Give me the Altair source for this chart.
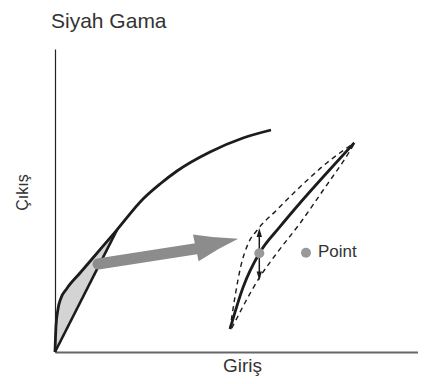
import altair as alt
import pandas as pd

# ---- values (x = Giriş, y = Çıkış, plot units) ----
# main gamma curve
curve_x = [0, 1, 3, 6, 11.7, 25, 40, 62, 88, 105, 122, 155, 188, 216]
curve_y = [0, 26, 43, 54, 63.3, 79, 96.5, 122.2, 153, 168, 181, 200, 214, 222]
# straight (black-stretch) segment
line_x = [0, 62]
line_y = [0, 122.2]
# shaded band between curve and straight segment
band_y = [0, 26, 43, 54, 63.3, 79, 96.5, 122.2]
band_curve_x = [0, 1, 3, 6, 11.7, 25, 40, 62]
band_line_x = [0, 13.2, 21.8, 27.4, 32.1, 40.1, 49.0, 62]

# enlarged detail: solid curve and dashed envelope
detail_x = [175, 188.3, 204.3, 225, 245, 271.7, 299.3]
detail_y = [23, 65.3, 98.7, 125.3, 149, 179, 209.3]
upper_x = [175, 180, 185.7, 193.3, 202.3, 221.7, 245, 271.7, 291.7, 299]
upper_y = [23, 55.3, 85.3, 108.7, 122, 142, 165, 189, 204, 209]
lower_x = [176.7, 205, 221.7, 245, 268.3, 295, 299]
lower_y = [23.7, 75.3, 98.7, 128.7, 162, 201.3, 208]

# big gray arrow
arrow_x, arrow_y, arrow_x2, arrow_y2 = [43], [88], [146], [104]
head_x, head_y = [162], [108.7]

# small double arrow
darrow_x = [204.3]
darrow_lo, darrow_hi = [76], [120]
up_head_y, down_head_y = [119.5], [76]

# points and label
point_x = [204.3, 251]
point_y = [98.7, 99.3]
label_x, label_y, label_text = [263], [95.3], ["Point"]

FONT = "Liberation Sans"
INK = "#1c1c1c"
GRAY = "#8c8c8c"

xs = alt.Scale(domain=[0, 363], nice=False, zero=False)
ys = alt.Scale(domain=[0, 303], nice=False, zero=False)
xaxis = alt.Axis(title="Giriş", ticks=False, labels=False, grid=False,
                 domainColor="#666666", domainWidth=1.8,
                 titleX=187, titleY=19, titleBaseline="alphabetic", titleAlign="center",
                 titleFontSize=19, titleFont=FONT, titleFontWeight="normal", titleColor="#333333")
yaxis = alt.Axis(title="Çıkış", ticks=False, labels=False, grid=False,
                 domainColor="#222222", domainWidth=1.2,
                 titleX=-28, titleY=143, titleAngle=270, titleBaseline="alphabetic", titleAlign="center",
                 titleFontSize=16, titleFont=FONT, titleFontWeight="normal", titleColor="#333333")


def X(f):
    return alt.X(f, type="quantitative", scale=xs, axis=xaxis, title="Giriş")


def Y(f):
    return alt.Y(f, type="quantitative", scale=ys, axis=yaxis, title="Çıkış")


band = alt.Chart(pd.DataFrame({"y": band_y, "xa": band_curve_x, "xb": band_line_x})).mark_area(
    orient="horizontal", interpolate="monotone", color="#d4d4d4"
).encode(y=Y("y"), x=X("xa"), x2="xb")

curve = alt.Chart(pd.DataFrame({"x": curve_x, "y": curve_y})).mark_line(
    interpolate="monotone", color=INK, strokeWidth=2.8
).encode(x=X("x"), y=Y("y"))

straight = alt.Chart(pd.DataFrame({"x": line_x, "y": line_y})).mark_line(
    color=INK, strokeWidth=2.6
).encode(x=X("x"), y=Y("y"))

shaft = alt.Chart(pd.DataFrame({"x": arrow_x, "y": arrow_y, "x2": arrow_x2, "y2": arrow_y2})).mark_rule(
    color=GRAY, strokeWidth=11, strokeCap="round"
).encode(x=X("x"), y=Y("y"), x2="x2", y2="y2")

head = alt.Chart(pd.DataFrame({"x": head_x, "y": head_y})).mark_point(
    shape="M-1,-0.63 Q0,-0.24 1,0 Q0,0.24 -1,0.63 Z", size=1880, angle=348,
    filled=True, color=GRAY, opacity=1
).encode(x=X("x"), y=Y("y"))

upper = alt.Chart(pd.DataFrame({"x": upper_x, "y": upper_y})).mark_line(
    interpolate="monotone", color=INK, strokeWidth=1.4, strokeDash=[5, 4]
).encode(x=X("x"), y=Y("y"))

lower = alt.Chart(pd.DataFrame({"x": lower_x, "y": lower_y})).mark_line(
    interpolate="monotone", color=INK, strokeWidth=1.4, strokeDash=[5, 4]
).encode(x=X("x"), y=Y("y"))

detail = alt.Chart(pd.DataFrame({"x": detail_x, "y": detail_y})).mark_line(
    interpolate="monotone", color=INK, strokeWidth=2.8
).encode(x=X("x"), y=Y("y"))

dshaft = alt.Chart(pd.DataFrame({"x": darrow_x, "y": darrow_lo, "y2": darrow_hi})).mark_rule(
    color=INK, strokeWidth=1.5
).encode(x=X("x"), y=Y("y"), y2="y2")

uphead = alt.Chart(pd.DataFrame({"x": darrow_x, "y": up_head_y})).mark_point(
    shape="M0,-1 L0.6,1 L-0.6,1 Z", size=81, filled=True, color=INK, opacity=1
).encode(x=X("x"), y=Y("y"))

downhead = alt.Chart(pd.DataFrame({"x": darrow_x, "y": down_head_y})).mark_point(
    shape="M0,1 L0.6,-1 L-0.6,-1 Z", size=81, filled=True, color=INK, opacity=1
).encode(x=X("x"), y=Y("y"))

points = alt.Chart(pd.DataFrame({"x": point_x, "y": point_y})).mark_circle(
    size=100, color="#999999", opacity=1
).encode(x=X("x"), y=Y("y"))

label = alt.Chart(pd.DataFrame({"x": label_x, "y": label_y, "t": label_text})).mark_text(
    align="left", baseline="alphabetic", font=FONT, fontSize=17, color="#333333"
).encode(x=X("x"), y=Y("y"), text="t:N")

chart = alt.layer(
    band, curve, straight, shaft, head, upper, lower, detail, dshaft, uphead, downhead, points, label
).properties(
    width=363, height=303,
    autosize=alt.AutoSizeParams(type="none"),
    padding={"left": 47, "top": 41, "right": 0, "bottom": 24},
    title=alt.TitleParams("Siyah Gama", anchor="start", frame="group", fontSize=21, font=FONT,
                          fontWeight="normal", color="#333333", dx=-4, offset=0, baseline="alphabetic"),
).configure_view(stroke=None)

chart.save("out.html", embed_options={"renderer": "svg", "actions": False})
